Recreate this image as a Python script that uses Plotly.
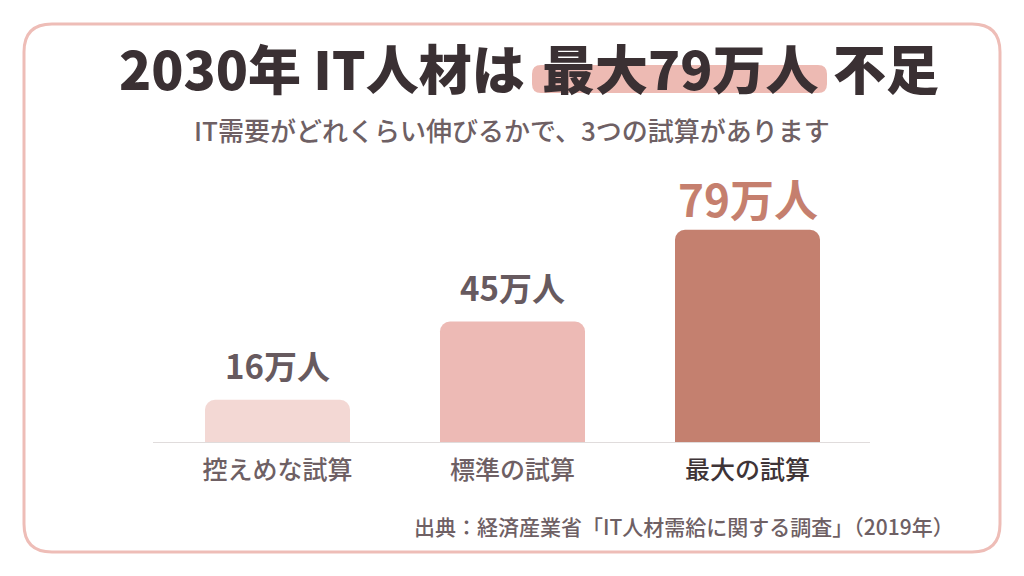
import plotly.graph_objects as go

# ---- data ----
categories = ["控えめな試算", "標準の試算", "最大の試算"]
values = [16, 45, 79]
value_labels = ["16万人", "45万人", "79万人"]
title_parts = ["2030年 IT人材は", "最大79万人", "不足"]
subtitle_text = "IT需要がどれくらい伸びるかで、3つの試算があります"
source_text = "出典：経済産業省「IT人材需給に関する調査」（2019年）"

# ---- style ----
bar_colors = ["#F3D8D4", "#EDBAB5", "#C4806F"]
label_colors = ["#675A5F", "#675A5F", "#C57F6E"]
label_sizes = [33, 33, 44]
label_shifts = [35, 35, 32]
cat_colors = ["#6E6064", "#6E6064", "#3E3437"]
title_anchor_x = [527, 680, 886]
title_anchors = ["right", "center", "center"]
FONT = "Noto Sans CJK JP"
W, H = 1024, 576
PL, PR, PT, PB = 160, 865, 170, 443  # plot area pixel box


def px(xp):
    return (xp - PL) / (PR - PL)


def py(yp):
    return (PB - yp) / (PB - PT)


def rounded_rect(x0, y0, x1, y1, r):
    pts = [
        f"M {px(x0 + r)},{py(y0)}",
        f"L {px(x1 - r)},{py(y0)}",
        f"Q {px(x1)},{py(y0)} {px(x1)},{py(y0 + r)}",
        f"L {px(x1)},{py(y1 - r)}",
        f"Q {px(x1)},{py(y1)} {px(x1 - r)},{py(y1)}",
        f"L {px(x0 + r)},{py(y1)}",
        f"Q {px(x0)},{py(y1)} {px(x0)},{py(y1 - r)}",
        f"L {px(x0)},{py(y0 + r)}",
        f"Q {px(x0)},{py(y0)} {px(x0 + r)},{py(y0)}",
        "Z",
    ]
    return " ".join(pts)


fig = go.Figure()
fig.add_trace(go.Bar(
    x=categories, y=values,
    marker=dict(color=bar_colors, cornerradius=10, line=dict(width=0)),
    hoverinfo="skip",
))

ymax = (PB - PT) / 2.7

ticktext = [f"<span style='color:{c}'>{t}</span>" for t, c in zip(categories, cat_colors)]

fig.update_layout(
    width=W, height=H,
    margin=dict(l=PL, r=W - PR, t=PT, b=H - PB),
    paper_bgcolor="white", plot_bgcolor="white",
    showlegend=False,
    bargap=0.383,
    font=dict(family=FONT),
    xaxis=dict(
        range=[-0.5, 2.5], showgrid=False, zeroline=False, showline=False,
        tickmode="array", tickvals=categories, ticktext=ticktext,
        tickfont=dict(size=25, family=FONT, color="#6E6064", weight=500),
        ticks="", ticklabelstandoff=10,
    ),
    yaxis=dict(range=[0, ymax], visible=False),
)

shapes = []
# outer frame
shapes.append(dict(type="path", xref="paper", yref="paper",
                   path=rounded_rect(24, 24, 1000, 552, 28),
                   line=dict(color="#EEBDB7", width=3), fillcolor="rgba(0,0,0,0)",
                   layer="below"))
# highlight behind 最大79万人
shapes.append(dict(type="path", xref="paper", yref="paper",
                   path=rounded_rect(532, 65, 827, 93, 9),
                   line=dict(width=0), fillcolor="#EDBAB3", layer="below"))
# baseline
shapes.append(dict(type="line", xref="paper", yref="y",
                   x0=px(153), x1=px(870), y0=0, y1=0,
                   line=dict(color="#E0DCDC", width=2), layer="above"))
fig.update_layout(shapes=shapes)

# title (three parts so the highlight sits on the middle part)
for t, cx, anc in zip(title_parts, title_anchor_x, title_anchors):
    fig.add_annotation(text=t, xref="paper", yref="paper",
                       x=px(cx), y=py(67), xanchor=anc, yanchor="middle",
                       showarrow=False,
                       font=dict(size=53, family=FONT, color="#3A3033", weight=900))
# subtitle
fig.add_annotation(text=subtitle_text, xref="paper", yref="paper",
                   x=px(512), y=py(129), xanchor="center", yanchor="middle",
                   showarrow=False,
                   font=dict(size=26, family=FONT, color="#6E6064", weight=500))
# value labels
for c, v, t, col, s, sh in zip(categories, values, value_labels, label_colors, label_sizes, label_shifts):
    fig.add_annotation(text=t, x=c, y=v, xref="x", yref="y",
                       xanchor="center", yanchor="middle", yshift=sh,
                       showarrow=False,
                       font=dict(size=s, family=FONT, color=col, weight=700))
# source
fig.add_annotation(text=source_text, xref="paper", yref="paper",
                   x=px(956), y=py(526), xanchor="right", yanchor="middle",
                   showarrow=False,
                   font=dict(size=21, family=FONT, color="#6E6064", weight=500))

fig.write_html("out.html")
